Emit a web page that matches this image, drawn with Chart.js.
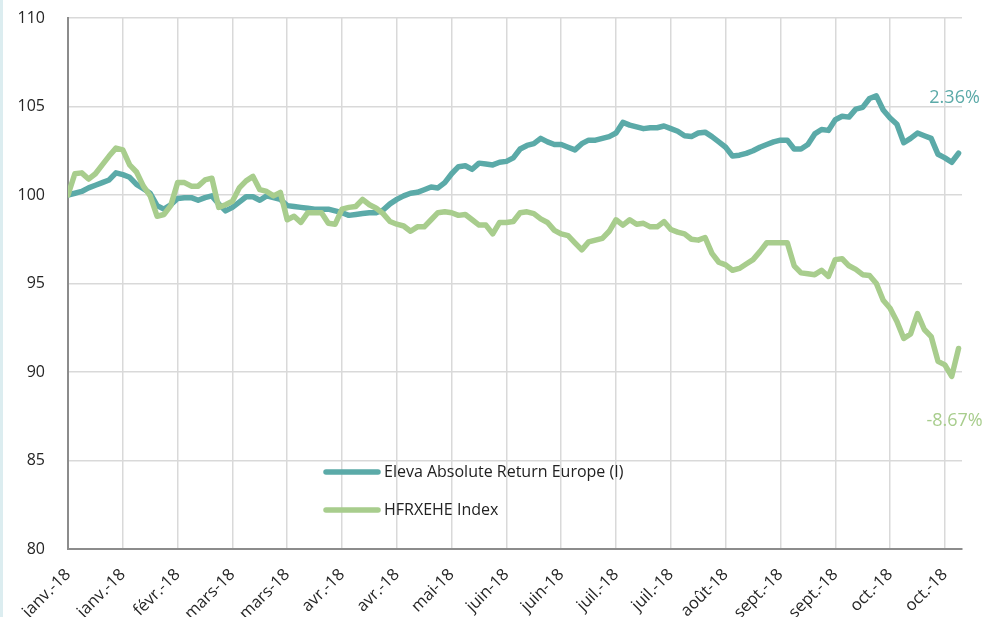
<!DOCTYPE html>
<html>
<head>
<meta charset="utf-8">
<script src="https://cdn.jsdelivr.net/npm/chart.js@4.4.1/dist/chart.umd.min.js"></script>
<style>
  html, body { margin: 0; padding: 0; background: #fff; overflow: hidden; }
  #wrap { position: relative; width: 998px; height: 617px; }
  #edge { position: absolute; left: 0; top: 0; width: 3px; height: 617px; background: #dcedf0; }
</style>
</head>
<body>
<div id="wrap">
  <canvas id="perfChart" width="998" height="617"></canvas>
  <div id="edge"></div>
</div>
<script>
// x axis labels, one every 8 points
const tickLabels = ['janv.-18', 'janv.-18', 'févr.-18', 'mars-18', 'mars-18', 'avr.-18', 'avr.-18', 'mai-18',
  'juin-18', 'juin-18', 'juil.-18', 'juil.-18', 'août-18', 'sept.-18', 'sept.-18', 'oct.-18', 'oct.-18'];
const pointsPerTick = 8;

const seriesNames = ['Eleva Absolute Return Europe (I)', 'HFRXEHE Index'];
const endLabels = ['2.36%', '-8.67%'];

// rebased to 100
const elevaValues = [
  100.0, 100.1, 100.2, 100.4, 100.55, 100.7, 100.85, 101.25, 101.15, 101.0,
  100.6, 100.35, 100.1, 99.4, 99.2, 99.45, 99.8, 99.85, 99.85, 99.7,
  99.85, 99.95, 99.5, 99.1, 99.3, 99.6, 99.9, 99.9, 99.7, 99.95,
  99.85, 99.75, 99.4, 99.35, 99.3, 99.25, 99.2, 99.2, 99.2, 99.1,
  99.0, 98.85, 98.9, 98.95, 99.0, 99.0, 99.15, 99.5, 99.75, 99.95,
  100.1, 100.15, 100.3, 100.45, 100.4, 100.7, 101.2, 101.6, 101.65, 101.45,
  101.8, 101.75, 101.7, 101.85, 101.9, 102.1, 102.6, 102.8, 102.9, 103.2,
  103.0, 102.85, 102.85, 102.7, 102.55, 102.9, 103.1, 103.1, 103.2, 103.3,
  103.5, 104.1, 103.95, 103.85, 103.75, 103.8, 103.8, 103.9, 103.75, 103.6,
  103.35, 103.3, 103.5, 103.55, 103.3, 103.0, 102.7, 102.2, 102.25, 102.35,
  102.5, 102.7, 102.85, 103.0, 103.1, 103.1, 102.6, 102.6, 102.85, 103.45,
  103.7, 103.65, 104.25, 104.45, 104.4, 104.85, 104.95, 105.45, 105.6, 104.8,
  104.35, 104.0, 102.95, 103.2, 103.5, 103.35, 103.2, 102.3, 102.1, 101.85, 102.36
];

const hfrxValues = [
  100.0, 101.2, 101.25, 100.9, 101.2, 101.7, 102.2, 102.65, 102.55, 101.7,
  101.3, 100.5, 99.95, 98.8, 98.9, 99.4, 100.7, 100.7, 100.5, 100.5,
  100.85, 100.95, 99.3, 99.45, 99.65, 100.4, 100.8, 101.05, 100.3, 100.2,
  99.95, 100.15, 98.6, 98.8, 98.45, 99.0, 99.0, 99.0, 98.4, 98.35,
  99.2, 99.3, 99.35, 99.75, 99.45, 99.25, 98.95, 98.5, 98.35, 98.25,
  97.95, 98.2, 98.2, 98.6, 99.0, 99.05, 99.0, 98.85, 98.9, 98.6,
  98.3, 98.3, 97.8, 98.45, 98.45, 98.5, 99.0, 99.05, 98.95, 98.65,
  98.45, 98.0, 97.8, 97.7, 97.3, 96.9, 97.35, 97.45, 97.55, 97.95,
  98.6, 98.3, 98.6, 98.35, 98.4, 98.2, 98.2, 98.5, 98.05, 97.9,
  97.8, 97.5, 97.45, 97.6, 96.7, 96.2, 96.05, 95.75, 95.85, 96.1,
  96.35, 96.8, 97.3, 97.3, 97.3, 97.3, 96.0, 95.6, 95.55, 95.5,
  95.75, 95.4, 96.35, 96.4, 96.0, 95.8, 95.5, 95.45, 95.0, 94.05,
  93.6, 92.85, 91.9, 92.15, 93.3, 92.4, 92.0, 90.6, 90.4, 89.75, 91.33
];

const tealColor = '#5baaa8';
const greenColor = '#a8cd8d';
const fontFamily = "'Open Sans', sans-serif";

// legend inside the plot + end-of-line percentage labels
const overlayPlugin = {
  id: 'overlay',
  afterDatasetsDraw(chart) {
    const { ctx, chartArea, scales } = chart;
    const colors = [tealColor, greenColor];
    ctx.save();

    // Legend
    const lx = chartArea.left + 258;
    let ly = chartArea.top + 454;
    ctx.lineWidth = 5.5;
    ctx.lineCap = 'round';
    ctx.font = '16px ' + fontFamily;
    ctx.textBaseline = 'middle';
    ctx.textAlign = 'left';
    seriesNames.forEach((name, i) => {
      ctx.strokeStyle = colors[i];
      ctx.beginPath();
      ctx.moveTo(lx, ly);
      ctx.lineTo(lx + 52, ly);
      ctx.stroke();
      ctx.fillStyle = '#222';
      ctx.fillText(name, lx + 58, ly);
      ly += 38;
    });

    // End labels
    const lastIdx = elevaValues.length - 1;
    const endX = scales.x.getPixelForValue(lastIdx) - 4;
    ctx.font = '18px ' + fontFamily;
    ctx.textAlign = 'center';
    ctx.fillStyle = tealColor;
    ctx.fillText(endLabels[0], endX, scales.y.getPixelForValue(elevaValues[lastIdx]) - 55);
    ctx.fillStyle = greenColor;
    ctx.fillText(endLabels[1], endX, scales.y.getPixelForValue(hfrxValues[lastIdx]) + 72);

    ctx.restore();
  }
};

const ctxPerf = document.getElementById('perfChart').getContext('2d');
new Chart(ctxPerf, {
  type: 'line',
  data: {
    datasets: [
      {
        label: seriesNames[0],
        data: elevaValues.map((v, i) => ({ x: i, y: v })),
        borderColor: tealColor,
        order: 1
      },
      {
        label: seriesNames[1],
        data: hfrxValues.map((v, i) => ({ x: i, y: v })),
        borderColor: greenColor,
        order: 0
      }
    ]
  },
  options: {
    responsive: false,
    animation: false,
    layout: { padding: { top: 18, right: 36, left: 0, bottom: 0 } },
    elements: {
      line: { borderWidth: 5.5, tension: 0, borderJoinStyle: 'round', borderCapStyle: 'round', fill: false },
      point: { radius: 0 }
    },
    plugins: {
      legend: { display: false },
      tooltip: { enabled: false }
    },
    scales: {
      x: {
        type: 'linear',
        min: 0,
        max: 130.5,
        grid: { color: '#d9d9d9', lineWidth: 1.5, drawTicks: false },
        border: { color: '#8c8c8c', width: 2 },
        ticks: {
          stepSize: pointsPerTick,
          includeBounds: false,
          autoSkip: false,
          minRotation: 45,
          maxRotation: 45,
          padding: 16,
          color: '#262626',
          font: { family: fontFamily, size: 16.5 },
          callback: (v) => tickLabels[v / pointsPerTick] ?? ''
        },
        afterFit: (scale) => { scale.height = 68; }
      },
      y: {
        min: 80,
        max: 110,
        // invisible tick marks keep the labels away from the axis without growing the top padding
        grid: { color: '#d9d9d9', lineWidth: 1.5, drawTicks: true, tickLength: 19, tickColor: 'rgba(0,0,0,0)' },
        border: { color: '#8c8c8c', width: 2 },
        ticks: {
          stepSize: 5,
          padding: 4,
          color: '#262626',
          font: { family: fontFamily, size: 16 }
        },
        afterFit: (scale) => { scale.width = 68; }
      }
    }
  },
  plugins: [overlayPlugin]
});
</script>
</body>
</html>
